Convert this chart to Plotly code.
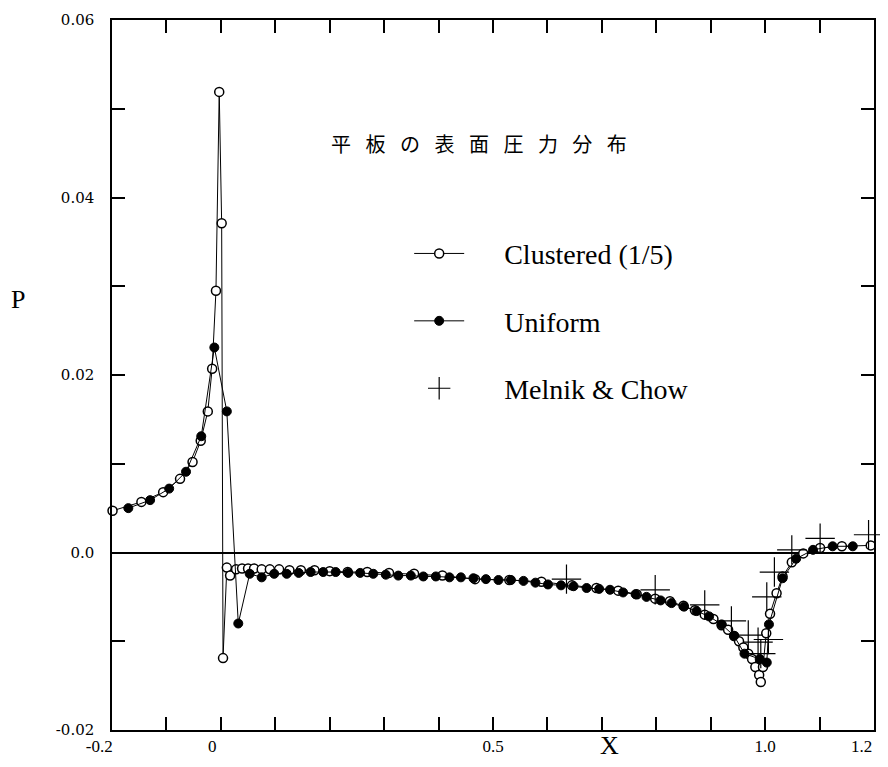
import plotly.graph_objects as go

# ---- data ----
clustered_x = [-0.199, -0.146, -0.106, -0.075, -0.052, -0.037, -0.024, -0.016, -0.009, -0.003,
               0.0015, 0.004, 0.011, 0.017, 0.028, 0.039, 0.050, 0.061, 0.075, 0.090,
               0.107, 0.126, 0.147, 0.172, 0.200, 0.233, 0.269, 0.309, 0.355, 0.407,
               0.467, 0.530, 0.589, 0.645, 0.690, 0.730, 0.764, 0.798, 0.825, 0.850,
               0.871, 0.889, 0.905, 0.920, 0.932, 0.943, 0.952, 0.960, 0.969, 0.976,
               0.982, 0.989, 0.992, 0.996, 1.002, 1.009, 1.021, 1.032, 1.049, 1.070,
               1.101, 1.141, 1.194]
clustered_p = [0.0047, 0.0057, 0.0068, 0.0083, 0.0102, 0.0126, 0.0159, 0.0207, 0.0295, 0.0519,
               0.0371, -0.0119, -0.0017, -0.0026, -0.0019, -0.0018, -0.0018, -0.0018, -0.0019, -0.0019,
               -0.0019, -0.0020, -0.0020, -0.0020, -0.0021, -0.0022, -0.0022, -0.0023, -0.0024, -0.0026,
               -0.0030, -0.0031, -0.0033, -0.0037, -0.0040, -0.0043, -0.0047, -0.0052, -0.0055, -0.0060,
               -0.0065, -0.0070, -0.0075, -0.0082, -0.0087, -0.0094, -0.0100, -0.0107, -0.0114, -0.0120,
               -0.0129, -0.0138, -0.0146, -0.0129, -0.0091, -0.0069, -0.0046, -0.0027, -0.0011, -0.0001,
               0.0005, 0.0007, 0.0008]

uniform_x = [-0.170, -0.130, -0.095, -0.064, -0.036, -0.012, 0.011, 0.032, 0.053, 0.075,
             0.098, 0.121, 0.143, 0.165, 0.188, 0.211, 0.234, 0.256, 0.280, 0.303,
             0.326, 0.349, 0.372, 0.395, 0.420, 0.441, 0.464, 0.487, 0.510, 0.533,
             0.556, 0.578, 0.601, 0.625, 0.648, 0.672, 0.695, 0.715, 0.739, 0.762,
             0.782, 0.808, 0.828, 0.851, 0.874, 0.897, 0.920, 0.943, 0.962, 0.990,
             1.003, 1.007, 1.032, 1.057, 1.088, 1.124, 1.161]
uniform_p = [0.0050, 0.0059, 0.0072, 0.0091, 0.0131, 0.0231, 0.0159, -0.0080, -0.0024, -0.0028,
             -0.0024, -0.0024, -0.0023, -0.0022, -0.0022, -0.0022, -0.0023, -0.0023, -0.0024, -0.0025,
             -0.0026, -0.0026, -0.0027, -0.0027, -0.0028, -0.0028, -0.0029, -0.0030, -0.0031, -0.0031,
             -0.0032, -0.0034, -0.0036, -0.0037, -0.0038, -0.0040, -0.0041, -0.0042, -0.0045, -0.0047,
             -0.0050, -0.0054, -0.0057, -0.0061, -0.0066, -0.0072, -0.0081, -0.0094, -0.0114, -0.0120,
             -0.0124, -0.0081, -0.0029, -0.0007, 0.0003, 0.0007, 0.0007]

melnik_x = [0.635, 0.798, 0.889, 0.938, 0.969, 0.987, 0.992, 1.006, 1.003, 1.017, 1.049, 1.101, 1.190]
melnik_p = [-0.0030, -0.0042, -0.0059, -0.0077, -0.0093, -0.0101, -0.0114, -0.0098, -0.0050, -0.0022,
            0.0003, 0.0016, 0.0020]

x_tick_vals = [-0.2, -0.1, 0.0, 0.1, 0.2, 0.3, 0.4, 0.5, 0.6, 0.7, 0.8, 0.9, 1.0, 1.1, 1.2]
x_tick_text = ["-0.2\u2003\u2002", "", "0\u2003", "", "", "", "", "0.5", "", "", "", "", "1.0", "", ""]
x_end_label = "1.2"
y_tick_vals = [-0.02, -0.01, 0.0, 0.01, 0.02, 0.03, 0.04, 0.05, 0.06]
y_tick_text = ["-0.02", "", "0.0", "", "0.02", "", "0.04", "", "0.06"]

title_text = "平\u2002 板\u2002 の\u2002 表\u2002 面\u2002 圧\u2002 力\u2002 分\u2002 布"
names = ["Clustered (1/5)", "Uniform", "Melnik & Chow"]
PAD = "\u00a0" * 5

SERIF = "Liberation Serif, Times New Roman, serif"

fig = go.Figure()
fig.add_trace(go.Scatter(
    x=clustered_x, y=clustered_p, mode="lines+markers", name=PAD + names[0],
    legendgroup="a", cliponaxis=False,
    line=dict(color="black", width=1),
    marker=dict(symbol="circle", size=9, color="white", line=dict(color="black", width=1.5)),
))
fig.add_trace(go.Scatter(
    x=uniform_x, y=uniform_p, mode="lines+markers", name=PAD + names[1],
    legendgroup="b", cliponaxis=False,
    line=dict(color="black", width=1),
    marker=dict(symbol="circle", size=9, color="black", line=dict(color="black", width=1)),
))
fig.add_trace(go.Scatter(
    x=melnik_x, y=melnik_p, mode="markers", name=PAD + names[2],
    legendgroup="c", cliponaxis=False,
    marker=dict(symbol="cross-thin", size=21, color="black", line=dict(color="black", width=1.2)),
))

axis_common = dict(
    showline=True, linecolor="black", linewidth=1.5, mirror="ticks",
    ticks="inside", ticklen=13, tickwidth=1.5, tickcolor="black",
    showgrid=False, automargin=False, ticklabeloverflow="allow",
)

# page has an 8px body margin; figure sized to fit inside the 888x767 window
fig.update_layout(
    width=872, height=751,
    margin=dict(l=104, r=6, t=12, b=29),
    paper_bgcolor="white", plot_bgcolor="white",
    font=dict(family=SERIF, color="black"),
    xaxis=dict(range=[-0.2, 1.2], tickvals=x_tick_vals, ticktext=x_tick_text,
               tickfont=dict(family=SERIF, size=17), zeroline=False, **axis_common),
    yaxis=dict(range=[-0.02, 0.06], tickvals=y_tick_vals, ticktext=y_tick_text,
               tickfont=dict(family="DejaVu Serif", size=15), ticklabelstandoff=13,
               zeroline=True, zerolinecolor="black", zerolinewidth=2, **axis_common),
    showlegend=True,
    legend=dict(x=0.39, y=0.706, xanchor="left", yanchor="top",
                font=dict(family=SERIF, size=28), bgcolor="rgba(0,0,0,0)",
                tracegroupgap=28, itemwidth=50),
    annotations=[
        dict(text=title_text, x=0.482, y=0.85, xref="paper", yref="paper",
             showarrow=False, font=dict(family="Noto Sans CJK JP", size=20)),
        dict(text="P", x=-0.135, y=0.606, xref="paper", yref="paper", showarrow=False,
             font=dict(family=SERIF, size=26)),
        dict(text="X", x=0.653, y=-0.045, xref="paper", yref="paper", showarrow=False,
             font=dict(family=SERIF, size=26)),
        dict(text=x_end_label, x=1.2, xref="x", y=0, yref="paper", xanchor="right",
             yanchor="middle", yshift=-16, showarrow=False,
             font=dict(family=SERIF, size=17)),
    ],
)

fig.write_html("out.html")
